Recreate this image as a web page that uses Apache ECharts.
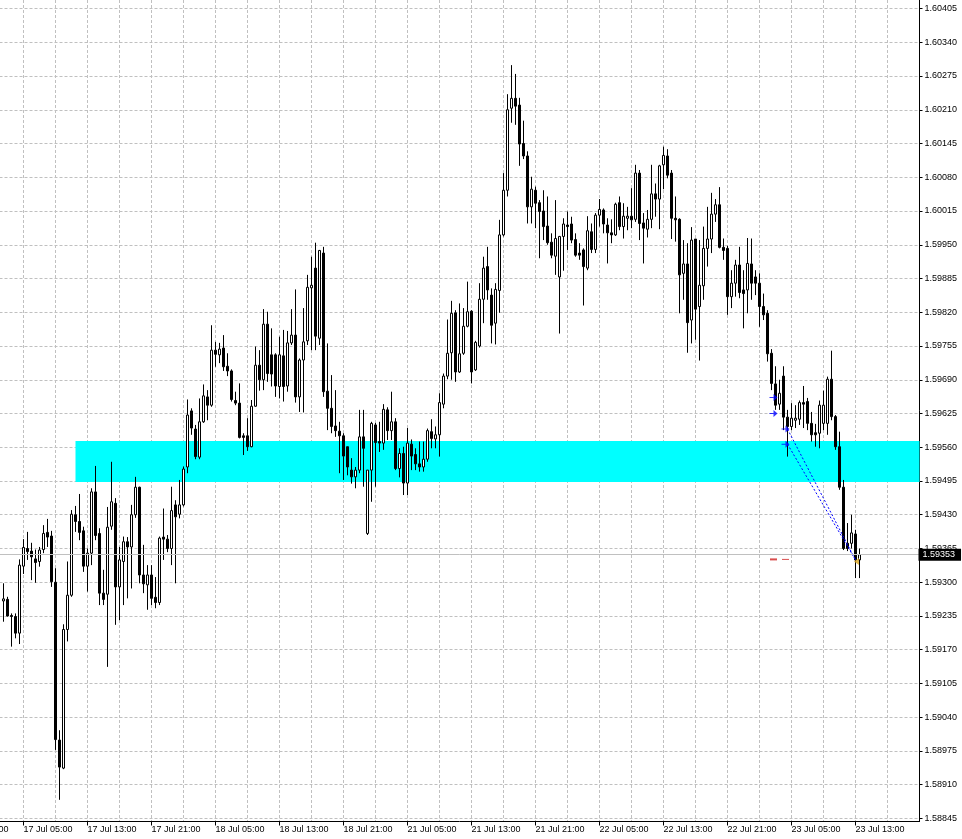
<!DOCTYPE html>
<html>
<head>
<meta charset="utf-8">
<script src="https://cdn.jsdelivr.net/npm/echarts@6/dist/echarts.min.js"></script>
<style>html,body{margin:0;padding:0;background:#fff;}#c{width:962px;height:839px;}</style>
</head>
<body>
<div id="c"></div>
<script>
// ---- time axis (M30 bars, weekend skipped) ----
const firstLabelTime = {day: 16, minute: 21 * 60};
const barMinutes = 30;
const totalSlots = 241;
const weekendFromDay = 19, weekendToDay = 21;
const firstCandleTime = '17 Jul 02:30';
const labelEvery = 16, gridEvery = 8;

// ---- OHLC values, one per 30-minute bar from 17 Jul 02:30 ----
const opens = [1.59264,1.59267,1.59236,1.59234,1.59202,1.59331,1.59365,1.59360,1.59345,1.59340,1.59363,1.59396,1.59389,1.59300,1.58996,1.58942,1.59209,1.59275,1.59430,1.59417,1.59399,1.59331,1.59356,1.59474,1.59394,1.59279,1.59277,1.59408,1.59452,1.59291,1.59340,1.59378,1.59368,1.59430,1.59483,1.59314,1.59295,1.59314,1.59271,1.59261,1.59387,1.59383,1.59365,1.59449,1.59431,1.59449,1.59522,1.59630,1.59595,1.59541,1.59609,1.59657,1.59641,1.59747,1.59738,1.59751,1.59716,1.59707,1.59650,1.59645,1.59582,1.59582,1.59561,1.59639,1.59718,1.59690,1.59797,1.59738,1.59738,1.59677,1.59736,1.59678,1.59761,1.59776,1.59657,1.59728,1.59765,1.59867,1.59905,1.59770,1.59934,1.59668,1.59635,1.59601,1.59591,1.59582,1.59561,1.59516,1.59503,1.59516,1.59580,1.59394,1.59516,1.59603,1.59571,1.59568,1.59632,1.59592,1.59609,1.59519,1.59548,1.59491,1.59566,1.59546,1.59528,1.59522,1.59537,1.59590,1.59576,1.59584,1.59643,1.59697,1.59742,1.59819,1.59705,1.59741,1.59793,1.59822,1.59709,1.59755,1.59845,1.59908,1.59853,1.59799,1.59862,1.59969,1.60055,1.60213,1.60232,1.60219,1.60145,1.60121,1.60023,1.60055,1.60031,1.60015,1.59986,1.59955,1.59928,1.59888,1.59966,1.59988,1.59990,1.59960,1.59934,1.59940,1.59905,1.59975,1.59941,1.60007,1.60017,1.59988,1.59973,1.59969,1.60031,1.59985,1.60001,1.60005,1.59999,1.60088,1.59992,1.59980,1.59999,1.60048,1.60038,1.60104,1.60121,1.60088,1.60001,1.59999,1.59895,1.59913,1.59805,1.59961,1.59831,1.59871,1.59943,1.59961,1.60009,1.60027,1.59945,1.59943,1.59850,1.59876,1.59911,1.59863,1.59863,1.59913,1.59888,1.59876,1.59831,1.59818,1.59741,1.59682,1.59643,1.59697,1.59618,1.59600,1.59612,1.59614,1.59646,1.59648,1.59606,1.59588,1.59587,1.59606,1.59606,1.59691,1.59619,1.59561,1.59483,1.59375,1.59375,1.59393,1.59343];
const closes = [1.59268,1.59235,1.59234,1.59202,1.59333,1.59367,1.59359,1.59349,1.59338,1.59362,1.59394,1.59387,1.59301,1.58997,1.58944,1.59209,1.59275,1.59431,1.59417,1.59396,1.59331,1.59356,1.59474,1.59390,1.59279,1.59267,1.59406,1.59455,1.59291,1.59343,1.59378,1.59368,1.59430,1.59483,1.59314,1.59297,1.59314,1.59269,1.59261,1.59385,1.59383,1.59365,1.59438,1.59426,1.59449,1.59518,1.59622,1.59597,1.59542,1.59609,1.59659,1.59641,1.59747,1.59739,1.59749,1.59715,1.59707,1.59652,1.59645,1.59579,1.59579,1.59561,1.59639,1.59718,1.59690,1.59797,1.59702,1.59701,1.59678,1.59738,1.59677,1.59761,1.59776,1.59657,1.59728,1.59763,1.59868,1.59872,1.59774,1.59939,1.59667,1.59635,1.59600,1.59592,1.59582,1.59543,1.59522,1.59503,1.59516,1.59580,1.59558,1.59516,1.59606,1.59569,1.59568,1.59633,1.59592,1.59609,1.59519,1.59548,1.59491,1.59568,1.59543,1.59528,1.59522,1.59537,1.59592,1.59577,1.59584,1.59646,1.59697,1.59741,1.59818,1.59705,1.59740,1.59793,1.59821,1.59705,1.59762,1.59845,1.59905,1.59863,1.59795,1.59864,1.59969,1.60055,1.60210,1.60232,1.60217,1.60144,1.60121,1.60023,1.60057,1.60030,1.60014,1.59985,1.59954,1.59930,1.59962,1.59966,1.59990,1.59985,1.59959,1.59930,1.59930,1.59908,1.59977,1.59941,1.60007,1.60018,1.59990,1.59973,1.59969,1.60028,1.59985,1.60005,1.60005,1.59998,1.60088,1.59991,1.59982,1.59999,1.60048,1.60038,1.60102,1.60122,1.60084,1.60001,1.59998,1.59892,1.59913,1.59800,1.59959,1.59826,1.59872,1.59943,1.59961,1.60009,1.60027,1.59945,1.59939,1.59850,1.59876,1.59911,1.59858,1.59856,1.59914,1.59876,1.59876,1.59831,1.59815,1.59740,1.59683,1.59641,1.59664,1.59618,1.59600,1.59616,1.59616,1.59646,1.59643,1.59606,1.59584,1.59584,1.59641,1.59641,1.59691,1.59619,1.59561,1.59483,1.59365,1.59365,1.59395,1.59343,1.59353];
const highs = [1.59298,1.59272,1.59240,1.59240,1.59344,1.59383,1.59397,1.59376,1.59363,1.59368,1.59410,1.59422,1.59399,1.59327,1.59015,1.59219,1.59340,1.59439,1.59447,1.59470,1.59407,1.59365,1.59481,1.59524,1.59404,1.59324,1.59445,1.59532,1.59462,1.59368,1.59388,1.59387,1.59449,1.59503,1.59484,1.59372,1.59333,1.59333,1.59310,1.59388,1.59442,1.59391,1.59484,1.59458,1.59497,1.59523,1.59652,1.59635,1.59603,1.59654,1.59681,1.59670,1.59795,1.59763,1.59761,1.59776,1.59741,1.59710,1.59667,1.59683,1.59587,1.59616,1.59651,1.59754,1.59747,1.59826,1.59821,1.59789,1.59741,1.59773,1.59786,1.59784,1.59826,1.59864,1.59731,1.59828,1.59892,1.59927,1.59954,1.59940,1.59946,1.59760,1.59699,1.59670,1.59609,1.59587,1.59561,1.59539,1.59522,1.59632,1.59632,1.59516,1.59609,1.59607,1.59609,1.59643,1.59637,1.59667,1.59616,1.59558,1.59561,1.59597,1.59575,1.59558,1.59571,1.59571,1.59596,1.59614,1.59600,1.59664,1.59702,1.59806,1.59842,1.59824,1.59837,1.59828,1.59879,1.59824,1.59765,1.59876,1.59927,1.59946,1.59866,1.59876,1.59998,1.60088,1.60240,1.60296,1.60279,1.60233,1.60189,1.60130,1.60081,1.60062,1.60036,1.60055,1.60043,1.59972,1.60036,1.59967,1.60001,1.60014,1.60004,1.59972,1.59953,1.59943,1.60005,1.59991,1.60011,1.60038,1.60020,1.60001,1.59999,1.60031,1.60043,1.60030,1.60023,1.60059,1.60104,1.60094,1.60011,1.60017,1.60104,1.60068,1.60104,1.60139,1.60134,1.60094,1.60043,1.60001,1.59959,1.59953,1.59984,1.59961,1.59959,1.59985,1.60023,1.60050,1.60038,1.60061,1.59962,1.59948,1.59901,1.59921,1.59946,1.59901,1.59963,1.59962,1.59901,1.59895,1.59856,1.59824,1.59749,1.59716,1.59690,1.59716,1.59632,1.59645,1.59641,1.59650,1.59678,1.59655,1.59628,1.59605,1.59650,1.59669,1.59696,1.59746,1.59622,1.59590,1.59497,1.59414,1.59430,1.59401,1.59365];
const lows = [1.59224,1.59234,1.59176,1.59192,1.59181,1.59316,1.59343,1.59304,1.59299,1.59330,1.59356,1.59368,1.59291,1.58977,1.58881,1.58940,1.59186,1.59272,1.59397,1.59381,1.59320,1.59282,1.59333,1.59381,1.59256,1.59256,1.59137,1.59401,1.59218,1.59227,1.59256,1.59269,1.59288,1.59424,1.59298,1.59279,1.59247,1.59256,1.59250,1.59256,1.59343,1.59358,1.59333,1.59298,1.59423,1.59446,1.59510,1.59584,1.59537,1.59537,1.59607,1.59612,1.59638,1.59715,1.59722,1.59707,1.59697,1.59648,1.59641,1.59577,1.59545,1.59553,1.59560,1.59638,1.59669,1.59670,1.59686,1.59677,1.59657,1.59654,1.59648,1.59667,1.59757,1.59646,1.59628,1.59627,1.59757,1.59747,1.59747,1.59757,1.59657,1.59593,1.59587,1.59580,1.59510,1.59497,1.59506,1.59490,1.59481,1.59510,1.59484,1.59391,1.59455,1.59484,1.59551,1.59555,1.59574,1.59574,1.59516,1.59502,1.59468,1.59468,1.59516,1.59516,1.59513,1.59513,1.59532,1.59558,1.59558,1.59542,1.59635,1.59691,1.59690,1.59686,1.59703,1.59738,1.59791,1.59683,1.59707,1.59752,1.59799,1.59844,1.59760,1.59758,1.59819,1.59966,1.60043,1.60185,1.60181,1.60102,1.60115,1.59991,1.59991,1.59982,1.59924,1.59959,1.59950,1.59924,1.59892,1.59779,1.59900,1.59940,1.59953,1.59927,1.59921,1.59833,1.59901,1.59934,1.59934,1.59985,1.59972,1.59914,1.59953,1.59967,1.59978,1.59962,1.59978,1.59982,1.59994,1.59959,1.59914,1.59964,1.59982,1.60004,1.59980,1.60057,1.60078,1.59961,1.59956,1.59818,1.59844,1.59742,1.59760,1.59767,1.59727,1.59844,1.59908,1.59934,1.59994,1.59943,1.59921,1.59815,1.59828,1.59850,1.59847,1.59789,1.59818,1.59844,1.59853,1.59792,1.59805,1.59725,1.59670,1.59632,1.59632,1.59593,1.59542,1.59593,1.59597,1.59603,1.59597,1.59593,1.59571,1.59561,1.59558,1.59593,1.59584,1.59612,1.59555,1.59478,1.59362,1.59360,1.59365,1.59308,1.59308];

// ---- price scale tick labels ----
const yTicks = [1.58845,1.58910,1.58975,1.59040,1.59105,1.59170,1.59235,1.59300,1.59365,1.59430,1.59495,1.59560,1.59625,1.59690,1.59755,1.59820,1.59885,1.59950,1.60015,1.60080,1.60145,1.60210,1.60275,1.60340,1.60405];

// ---- objects on chart ----
const bidPrice = 1.59353;
const zoneStartTime = '17 Jul 11:30';
const zoneTop = 1.59572, zoneBottom = 1.59493;
const arrowTimes = ['23 Jul 03:00','23 Jul 03:00','23 Jul 04:30','23 Jul 04:30'];
const arrowPrices = [1.59656,1.59625,1.59595,1.59566];
const tradeOpenTimes = ['23 Jul 04:30','23 Jul 04:30'];
const tradeOpenPrices = [1.59595,1.59566];
const tradeCloseTimes = ['23 Jul 13:00','23 Jul 13:00'];
const tradeClosePrices = [1.59343,1.59343];
const stopTimes = ['23 Jul 03:00','23 Jul 04:30'];
const stopPrices = [1.59344,1.59344];
const closeMarkTime = '23 Jul 13:00', closeMarkPrice = 1.59340;

function pad(n){return (n<10?'0':'')+n;}
const times = [];
(function(){
  let d = firstLabelTime.day, m = firstLabelTime.minute;
  for (let k = 0; k < totalSlots; k++) {
    times.push(d + ' Jul ' + pad(Math.floor(m/60)) + ':' + pad(m%60));
    m += barMinutes;
    if (m >= 1440) { m -= 1440; d++; if (d === weekendFromDay) d = weekendToDay; }
  }
})();
const offset = times.indexOf(firstCandleTime);
const candleData = times.map((t,k)=>{
  const i = k - offset;
  return (i >= 0 && i < opens.length) ? [opens[i], closes[i], lows[i], highs[i]] : '-';
});
const lastSlot = times.length - 1;
const showLabel = (idx) => idx % labelEvery === 0 && idx < lastSlot;

const FONT = 'Liberation Sans';
const chart = echarts.init(document.getElementById('c'), null, {renderer:'canvas'});
const series = [
  {
    type:'line', data:[], z:-1, silent:true, animation:false,
    markArea:{silent:true, itemStyle:{color:'#00ffff', opacity:1},
      data:[[{xAxis: zoneStartTime, yAxis: zoneTop},{xAxis: times[lastSlot], yAxis: zoneBottom}]]}
  },
  {
    type:'candlestick', data: candleData, barWidth:2, z:3, animation:false, silent:true,
    itemStyle:{color:'#ffffff', color0:'#000000', borderColor:'#000000', borderColor0:'#000000', borderColorDoji:'#000000', borderWidth:1}
  },
  {
    type:'line', data:[], z:2, silent:true, animation:false,
    markLine:{silent:true, symbol:['none','none'], animation:false, precision:5,
      lineStyle:{color:'#c0c0c0', type:'solid', width:1},
      label:{show:true, position:'end', distance:-1, formatter: bidPrice.toFixed(5), color:'#ffffff', backgroundColor:'#000000', padding:[2,6,1,4], fontSize:9, fontFamily:FONT},
      data:[{yAxis: bidPrice}]}
  }
];
for (let j = 0; j < tradeOpenTimes.length; j++) {
  series.push({type:'line', z:4, silent:true, animation:false, showSymbol:false,
    lineStyle:{color:'#0000ff', width:1, type:[2,2]},
    data:[[tradeOpenTimes[j], tradeOpenPrices[j]],[tradeCloseTimes[j], tradeClosePrices[j]]]});
}
series.push({type:'scatter', z:5, silent:true, animation:false,
  symbol:'path://M0,3 L4,3 L4,0 L8,3.5 L4,7 L4,4 L0,4 Z', symbolSize:[8,7], symbolOffset:[-2,0],
  itemStyle:{color:'#0000ff'},
  data: arrowTimes.map((t,j)=>[t, arrowPrices[j]])});
series.push({type:'scatter', z:5, silent:true, animation:false,
  symbol:'rect', symbolOffset:[-2,0],
  itemStyle:{color:'#d02020'},
  data: stopTimes.map((t,j)=>({value:[t, stopPrices[j]], symbolSize: j===0?[7,2]:[7,1]}))});
series.push({type:'scatter', z:5, silent:true, animation:false,
  symbol:'path://M0,3.5 L5,0 L5,7 Z', symbolSize:[5,7], symbolOffset:[1,0],
  itemStyle:{color:'#daa520'},
  data:[[closeMarkTime, closeMarkPrice]]});

chart.setOption({
  animation:false,
  backgroundColor:'#ffffff',
  textStyle:{fontFamily:FONT},
  grid:{left:-40.5, right:42.5, top:0, bottom:17.5, containLabel:false, outerBoundsMode:'none'},
  xAxis:{type:'category', data: times, boundaryGap:false,
    axisLine:{show:true, onZero:false, lineStyle:{color:'#000', width:1}},
    axisTick:{show:true, interval: showLabel, length:4, lineStyle:{color:'#000'}},
    axisLabel:{show:true, interval: showLabel, align:'left', color:'#000', fontSize:9, fontFamily:FONT, margin:4, hideOverlap:false},
    splitLine:{show:true, interval: gridEvery - 1, lineStyle:{color:'#c0c0c0', type:[3,2], width:1}}
  },
  yAxis:{type:'value', position:'right', min:1.588392, max:1.604214, scale:true,
    axisLine:{show:true, lineStyle:{color:'#000', width:1}},
    axisTick:{show:true, length:3, lineStyle:{color:'#000'}, customValues: yTicks},
    axisLabel:{show:true, customValues: yTicks, formatter:(v)=>Number(v).toFixed(5), color:'#000', fontSize:9, fontFamily:FONT, margin:5, hideOverlap:false},
    splitLine:{show:true, lineStyle:{color:'#c0c0c0', type:[3,2], width:1}}
  },
  series: series
});
</script>
</body>
</html>
